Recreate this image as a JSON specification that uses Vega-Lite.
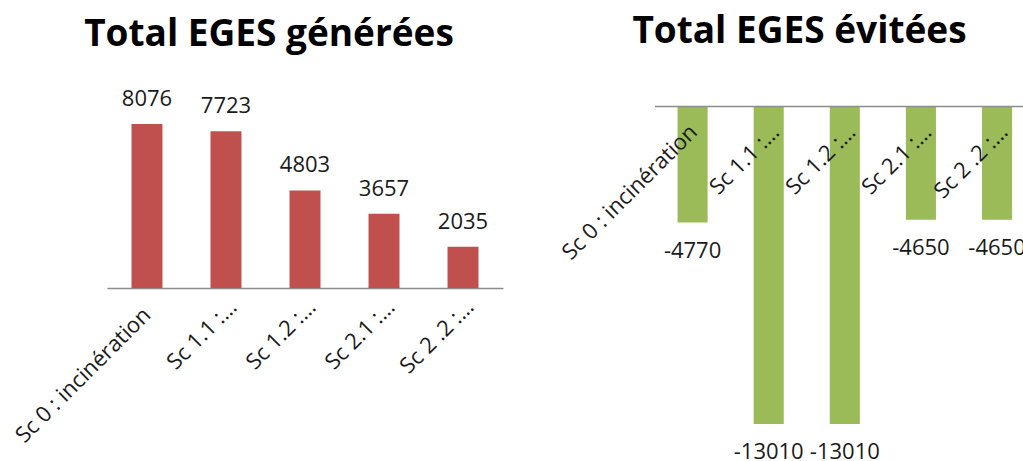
{
  "$schema": "https://vega.github.io/schema/vega-lite/v6.json",
  "background": "white",
  "padding": {"left": 11, "top": 13, "right": 0, "bottom": 0},
  "config": {"font": "Open Sans", "view": {"stroke": null}},
  "datasets": {
    "gen": [
      {"scenario": "Sc 0 : incinération", "value": 8076},
      {"scenario": "Sc 1.1 :…", "value": 7723},
      {"scenario": "Sc 1.2 :…", "value": 4803},
      {"scenario": "Sc 2.1 :…", "value": 3657},
      {"scenario": "Sc 2 .2 :…", "value": 2035}
    ],
    "evit": [
      {"scenario": "Sc 0 : incinération", "value": -4770},
      {"scenario": "Sc 1.1 :…", "value": -13010},
      {"scenario": "Sc 1.2 :…", "value": -13010},
      {"scenario": "Sc 2.1 :…", "value": -4650},
      {"scenario": "Sc 2 .2 :…", "value": -4650}
    ]
  },
  "spacing": 151.5,
  "bounds": "flush",
  "hconcat": [
    {
      "width": 396,
      "height": 182,
      "title": {"text": "Total EGES générées", "fontSize": 37, "fontWeight": "bold", "color": "#000000", "anchor": "middle", "dx": -36, "offset": 5, "frame": "group", "baseline": "alphabetic"},
      "data": {"name": "gen"},
      "encoding": {
        "x": {"field": "scenario", "type": "nominal", "sort": null,
          "scale": {"paddingInner": 0.608, "paddingOuter": 0.31},
          "axis": {"title": null, "orient": "bottom", "labelAngle": -45, "labelAlign": "right", "labelBaseline": "top",
            "labelPadding": {"condition": {"test": "datum.index == 0", "value": 16}, "value": 8},
            "labelOffset": {"condition": {"test": "datum.index == 0", "value": -7}, "value": 0},
            "ticks": false, "tickSize": 0, "labelFontSize": 22, "labelColor": "#1a1a1a", "labelLimit": 0, "labelOverlap": false, "domainColor": "#8c8c8c", "domainWidth": 1.5}},
        "y": {"field": "value", "type": "quantitative", "scale": {"domain": [0, 8962], "nice": false}, "axis": null}
      },
      "layer": [
        {"mark": {"type": "bar", "color": "#C0504D"}},
        {"mark": {"type": "text", "dy": -18, "baseline": "alphabetic", "fontSize": 22, "color": "#1a1a1a"},
         "encoding": {"text": {"field": "value", "type": "nominal"}}}
      ]
    },
    {
      "width": 370,
      "height": 340,
      "title": {"text": "Total EGES évitées", "fontSize": 37, "fontWeight": "bold", "color": "#000000", "anchor": "middle", "dx": -40, "offset": 26, "frame": "group", "baseline": "alphabetic"},
      "data": {"name": "evit"},
      "encoding": {
        "x": {"field": "scenario", "type": "nominal", "sort": null,
          "scale": {"paddingInner": 0.605, "paddingOuter": 0.233, "align": 0.65},
          "axis": {"title": null, "orient": "top", "labelAngle": -45, "labelAlign": "right", "labelBaseline": "top", "labelPadding": -15,
            "labelOffset": {"condition": {"test": "datum.index == 0", "value": -6}, "value": 0},
            "ticks": false, "tickSize": 0, "labelFontSize": 22, "labelColor": "#1a1a1a", "labelLimit": 0, "labelOverlap": false, "domainColor": "#8c8c8c", "domainWidth": 1.5, "zindex": 1}},
        "y": {"field": "value", "type": "quantitative", "scale": {"domain": [-13911, 0], "nice": false}, "axis": null}
      },
      "layer": [
        {"mark": {"type": "bar", "color": "#9BBB59"}},
        {"mark": {"type": "text", "dy": 35, "baseline": "alphabetic", "fontSize": 22, "color": "#1a1a1a"},
         "encoding": {"text": {"field": "value", "type": "nominal"}}}
      ]
    }
  ]
}
